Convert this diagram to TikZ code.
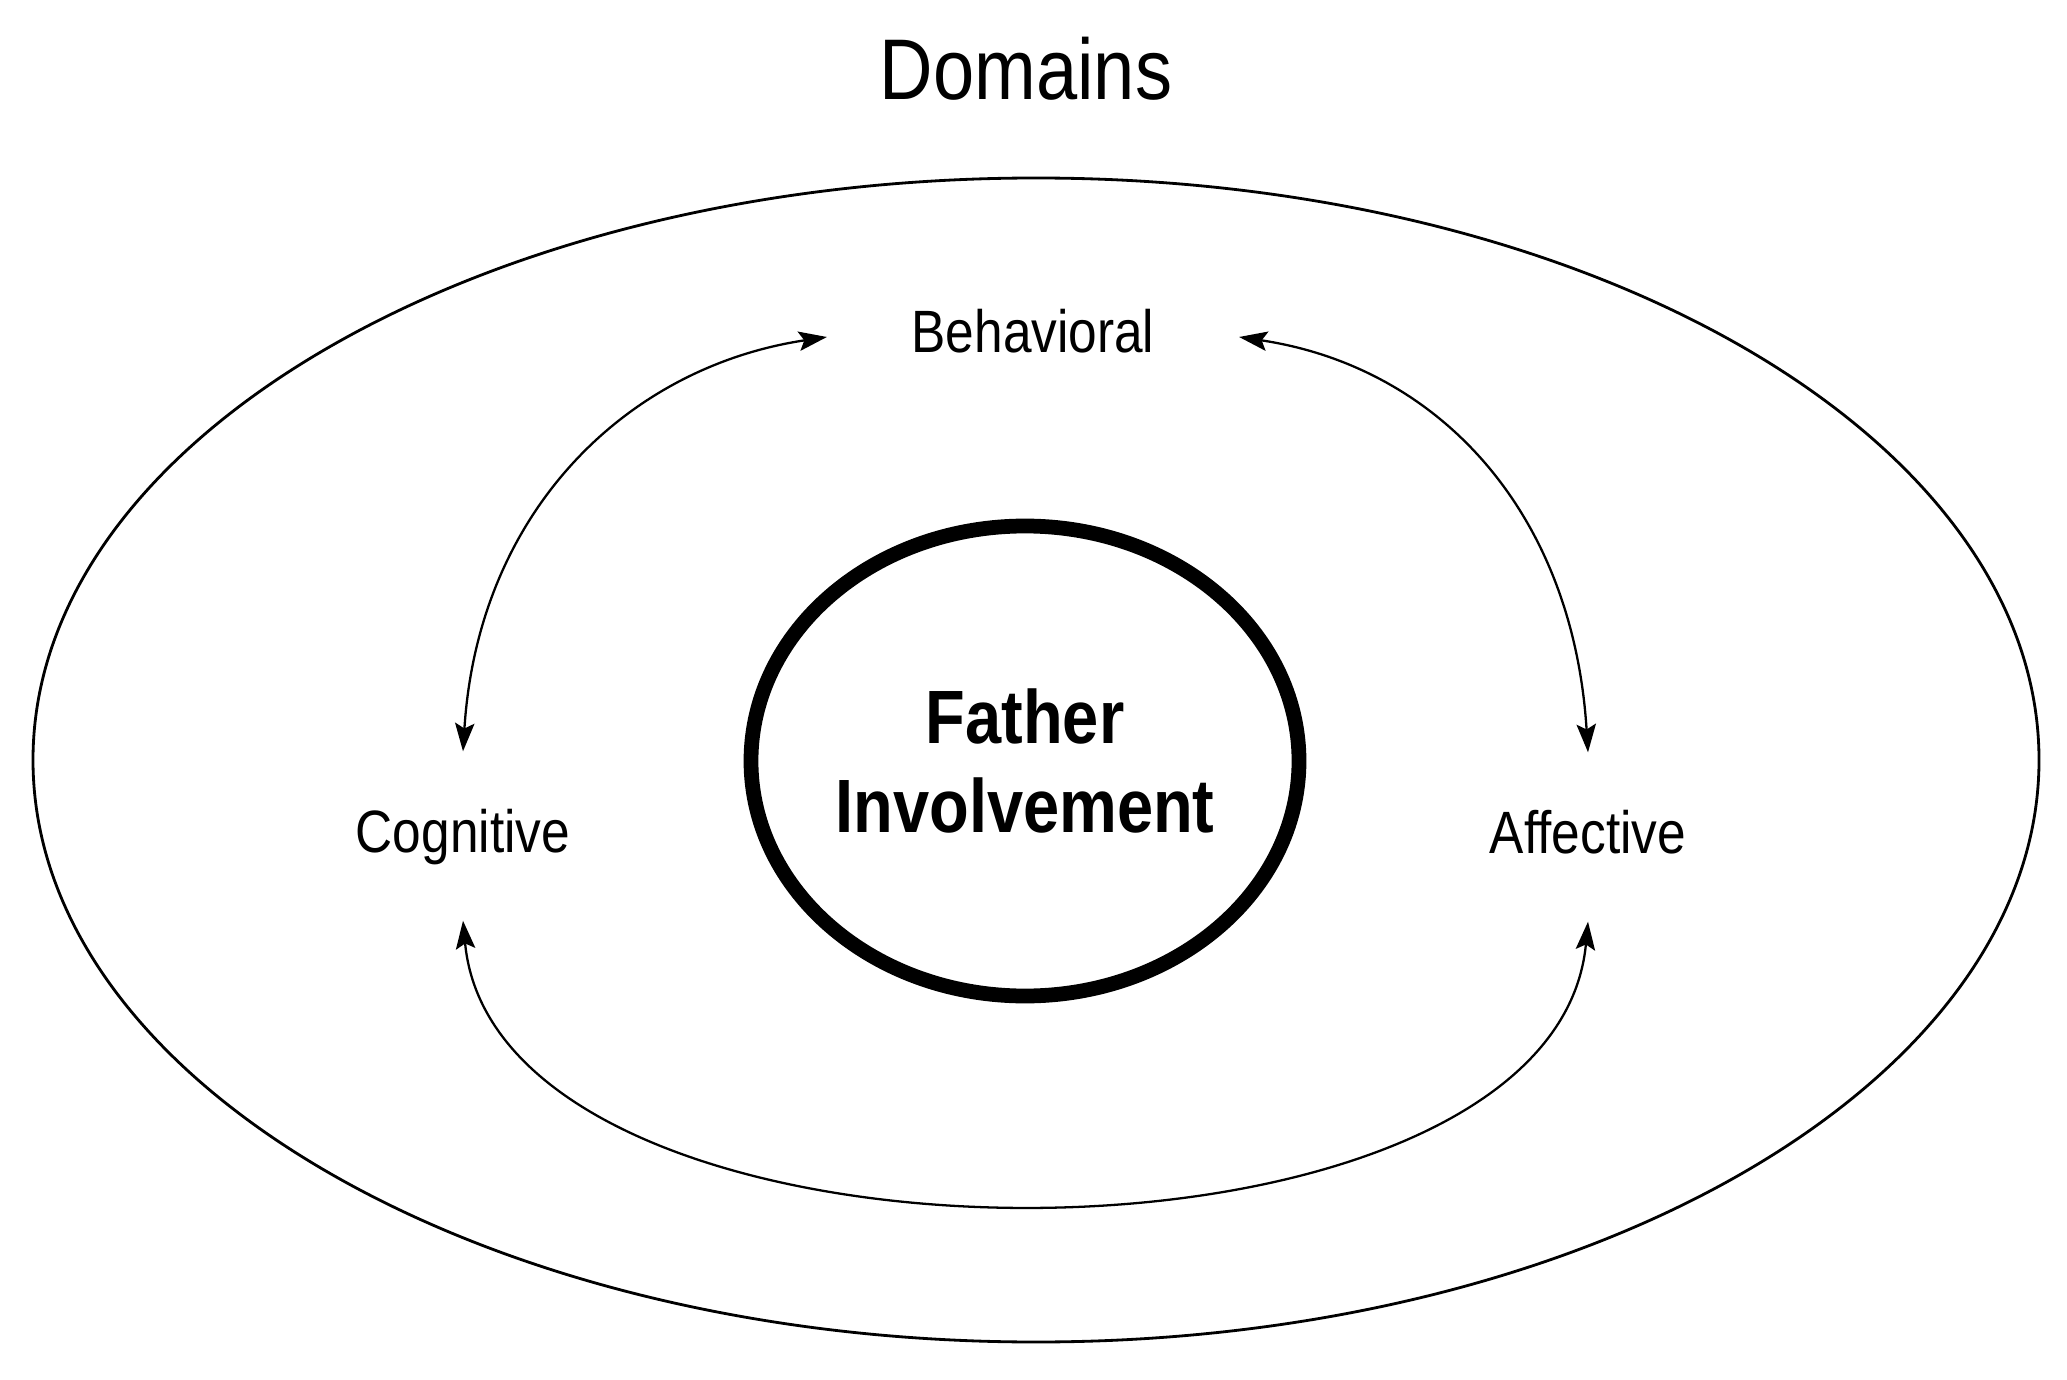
\documentclass[tikz,border=0pt]{standalone}
\usepackage{fontspec}
\setmainfont{Liberation Sans}[FakeStretch=0.86]
\usetikzlibrary{shapes.geometric}
\usetikzlibrary{arrows.meta}
\usetikzlibrary{positioning}

\tikzset{
  domainlabel/.style={anchor=base, inner xsep=0.84cm, inner ysep=0.55cm,
    text height=0.45cm, text depth=0.13cm, font=\fontsize{17}{20}\selectfont},
  link/.style={<->, line width=0.65pt},
}

\begin{document}
\begin{tikzpicture}[>={Stealth[length=8pt,width=5.5pt,inset=1.5pt]}]
\useasboundingbox (0,0) rectangle (20.67,13.79);
\node[draw, ellipse, line width=0.8pt, minimum width=20.06cm, minimum height=11.64cm] (ring) at (10.36,6.19) {};
\node[draw, ellipse, line width=4.2pt, inner sep=0pt, minimum width=5.48cm, minimum height=4.70cm,
  align=center, font=\bfseries\fontsize{21.5}{25.2}\selectfont] (fi) at (10.25,6.18) {Father\\Involvement};
\node[anchor=base, font=\fontsize{24.5}{28}\selectfont] (dom) at (10.26,12.79) {Domains};
\node[domainlabel] (beh) at (10.33,10.26) {Behavioral};
\node[domainlabel] (cog) at (4.63,5.27) {Cognitive};
\node[domainlabel] (aff) at (15.88,5.26) {Affective};
\draw[link] (cog.north) .. controls +(0.15,2.4) and +(-2.0,-0.3) .. (beh.west);
\draw[link] (aff.north) .. controls +(-0.15,2.4) and +(2.0,-0.3) .. (beh.east);
\draw[link] (cog.south) .. controls +(0.35,-3.75) and +(-0.35,-3.75) .. (aff.south);
\end{tikzpicture}
\end{document}
